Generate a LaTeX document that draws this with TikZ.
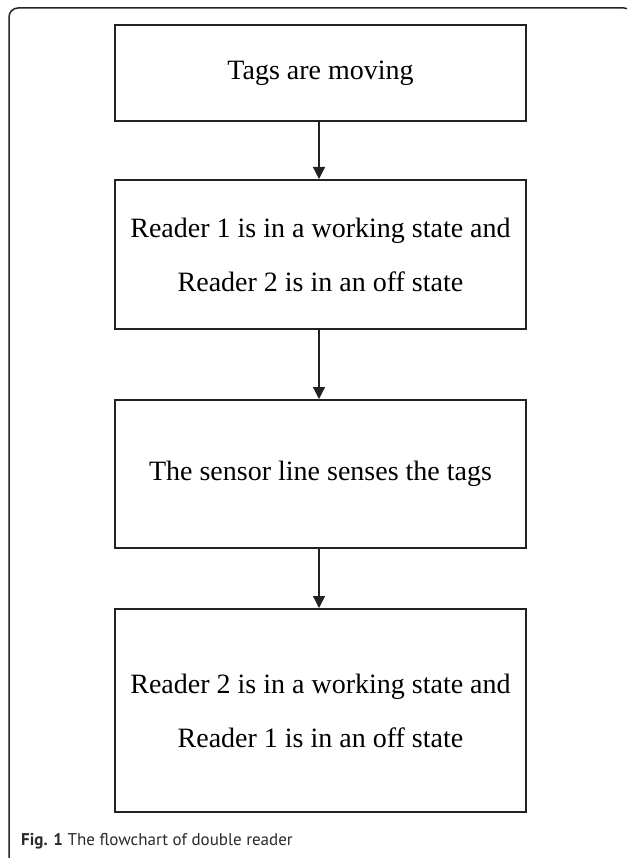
\documentclass[tikz,border=0pt]{standalone}
\usepackage{fontspec}
\setmainfont{Liberation Serif}
\newfontfamily\capfont{PT Sans}
\usetikzlibrary{arrows.meta}
\definecolor{boxline}{HTML}{222222}
\definecolor{captext}{HTML}{2A2A2A}
\tikzset{
  stepbox/.style={draw=boxline, line width=2pt, minimum width=411pt,
    align=center, inner sep=0pt,
    font=\fontsize{28}{54}\selectfont},
  flow/.style={draw=boxline, line width=1.3pt,
    -{Triangle[width=12pt,length=12pt]}},
  frameline/.style={draw=black!85, line width=1.5pt, rounded corners=9pt}
}
\begin{document}
\begin{tikzpicture}[x=1pt,y=-1pt]
  % page area
  \fill[white] (0,0) rectangle (627,858);
  \useasboundingbox (0,0) rectangle (627,858);
  % surrounding figure frame, only its left and top sides fall on the page
  \begin{scope}
    \clip (0,0) rectangle (627,858);
    \draw[frameline] (9,8) rectangle (633,866);
  \end{scope}

  % flowchart steps
  \node[stepbox, minimum height=96pt]  (s1) at (320.5,73)    {Tags are moving};
  \node[stepbox, minimum height=149pt] (s2) at (320.5,254.5) {Reader 1 is in a working state and\\Reader 2 is in an off state};
  \node[stepbox, minimum height=148pt] (s3) at (320.5,474)   {The sensor line senses the tags};
  \node[stepbox, minimum height=203pt] (s4) at (320.5,710.5) {Reader 2 is in a working state and\\Reader 1 is in an off state};

  % connectors
  \draw[flow] (s1.south -| 319,0) -- (s2.north -| 319,0);
  \draw[flow] (s2.south -| 319,0) -- (s3.north -| 319,0);
  \draw[flow] (s3.south -| 319,0) -- (s4.north -| 319,0);

  % caption
  \node[anchor=base west, inner sep=0pt, text=captext,
        font=\capfont\fontsize{17}{20}\selectfont] (cap) at (21,845)
    {\textbf{Fig. 1} The flowchart of double reader};
\end{tikzpicture}
\end{document}
